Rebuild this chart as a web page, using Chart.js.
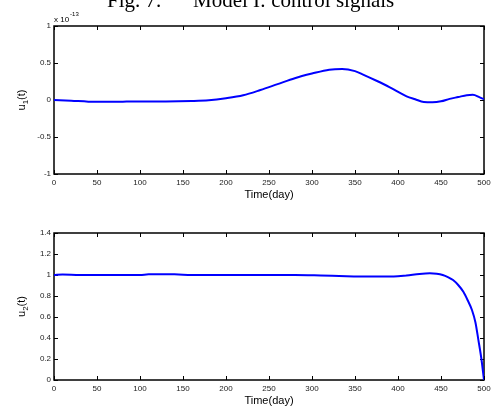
<!DOCTYPE html>
<html>
<head>
<meta charset="utf-8">
<script src="https://cdn.jsdelivr.net/npm/chart.js@4.4.0/dist/chart.umd.min.js"></script>
<style>
    body { margin: 0; background: #fff; width: 495px; height: 409px; overflow: hidden; position: relative; }
    canvas { position: absolute; left: 0; }
    #chartU1 { top: 0; }
    #chartU2 { top: 205px; }
</style>
</head>
<body>
<canvas id="chartU1" width="495" height="205"></canvas>
<canvas id="chartU2" width="495" height="204"></canvas>
<script>
// Données (u1 en unités de 1e-13)
const joursU1 = [0, 20, 40, 60, 80, 100, 130, 160, 180, 200, 220, 240, 260, 280, 300, 320, 335, 350, 360, 375, 390, 410, 420, 430, 440, 450, 460, 470, 480, 487, 495, 500];
const valeursU1 = [0.0, -0.01, -0.022, -0.025, -0.022, -0.02, -0.02, -0.015, -0.005, 0.023, 0.064, 0.135, 0.215, 0.295, 0.357, 0.41, 0.42, 0.39, 0.34, 0.26, 0.175, 0.05, 0.01, -0.027, -0.03, -0.018, 0.015, 0.04, 0.065, 0.07, 0.035, 0.01];

const joursU2 = [0, 10, 30, 60, 100, 110, 140, 160, 200, 250, 280, 310, 340, 370, 395, 410, 425, 437, 445, 452, 458, 464, 470, 476, 481, 486, 490, 493.5, 497, 500];
const valeursU2 = [1.0, 1.005, 1.0, 1.0, 1.0, 1.006, 1.006, 1.0, 1.0, 1.0, 1.0, 0.995, 0.988, 0.985, 0.985, 0.995, 1.01, 1.016, 1.012, 1.0, 0.98, 0.952, 0.905, 0.84, 0.76, 0.667, 0.55, 0.38, 0.2, 0.0];

const titreAxeX = 'Time(day)';
const policeSans = '"Liberation Sans", Arial, sans-serif';

// Format à la MATLAB : 1, 0.5, 0, -0.5 ...
const formatTick = v => String(Math.round(v * 10) / 10);

// Plugin : cadre, graduations internes, étiquettes Y avec indice, titre
const decorPlugin = {
    id: 'decor',
    beforeDatasetsDraw(chart, args, opts) {
        const { ctx, chartArea: a, scales } = chart;
        ctx.save();
        ctx.strokeStyle = '#000';
        ctx.lineWidth = 1.5;
        ctx.strokeRect(a.left, a.top, a.right - a.left, a.bottom - a.top);

        // graduations vers l'intérieur
        ctx.lineWidth = 1;
        ctx.beginPath();
        scales.x.ticks.forEach(t => {
            const px = Math.round(scales.x.getPixelForValue(t.value)) + 0.5;
            ctx.moveTo(px, a.bottom); ctx.lineTo(px, a.bottom - 4);
            ctx.moveTo(px, a.top); ctx.lineTo(px, a.top + 4);
        });
        scales.y.ticks.forEach(t => {
            const py = Math.round(scales.y.getPixelForValue(t.value)) + 0.5;
            ctx.moveTo(a.left, py); ctx.lineTo(a.left + 4, py);
            ctx.moveTo(a.right, py); ctx.lineTo(a.right - 4, py);
        });
        ctx.stroke();
        ctx.restore();
    },
    afterDraw(chart, args, opts) {
        const { ctx, chartArea: a } = chart;
        ctx.save();
        ctx.fillStyle = '#000';

        // étiquette Y : u_n(t)
        ctx.translate(opts.labelX, (a.top + a.bottom) / 2);
        ctx.rotate(-Math.PI / 2);
        ctx.textBaseline = 'alphabetic';
        ctx.font = '11px ' + policeSans;
        const wU = ctx.measureText('u').width;
        const wP = ctx.measureText('(t)').width;
        ctx.font = '8px ' + policeSans;
        const wS = ctx.measureText(opts.indice).width;
        let x = -(wU + wS + wP) / 2;
        ctx.font = '11px ' + policeSans;
        ctx.fillText('u', x, 0);
        ctx.font = '8px ' + policeSans;
        ctx.fillText(opts.indice, x + wU, 3);
        ctx.font = '11px ' + policeSans;
        ctx.fillText('(t)', x + wU + wS, 0);
        ctx.setTransform(1, 0, 0, 1, 0, 0);

        // multiplicateur x 10^-13
        if (opts.exposant) {
            ctx.font = '8px ' + policeSans;
            ctx.fillText('x 10', a.left, 22);
            const w = ctx.measureText('x 10').width;
            ctx.font = '6px ' + policeSans;
            ctx.fillText(opts.exposant, a.left + w + 1, 16);
        }

        // titre de la figure (coupé en haut)
        if (opts.titre) {
            ctx.font = '21px "Liberation Serif", "Times New Roman", serif';
            ctx.fillText('Fig. 7.', 107, 7);
            ctx.fillText('Model I: control signals', 193, 7);
        }
        ctx.restore();
    }
};

function creerGraphique(id, jours, valeurs, yMin, yMax, yPas, cfg) {
    const canvas = document.getElementById(id);
    const ctx = canvas.getContext('2d');
    const points = jours.map((j, i) => ({ x: j, y: valeurs[i] }));

    return new Chart(ctx, {
        type: 'line',
        data: {
            datasets: [{
                data: points,
                borderColor: '#0000ff',
                borderWidth: 2,
                pointRadius: 0,
                fill: false,
                cubicInterpolationMode: 'monotone'
            }]
        },
        plugins: [decorPlugin],
        options: {
            responsive: false,
            animation: false,
            layout: {
                padding: { top: cfg.haut, right: 11, left: 0, bottom: 0 }
            },
            plugins: {
                legend: { display: false },
                tooltip: { enabled: false },
                decor: cfg.decor
            },
            scales: {
                x: {
                    type: 'linear',
                    min: 0,
                    max: 500,
                    grid: { display: false, drawTicks: false },
                    border: { display: false },
                    ticks: {
                        stepSize: 50,
                        padding: 4,
                        color: '#222',
                        font: { size: 8, family: policeSans }
                    },
                    title: {
                        display: true,
                        text: titreAxeX,
                        color: '#000',
                        font: { size: 11, family: policeSans },
                        padding: { top: 0, bottom: cfg.titreBas }
                    },
                    afterFit: s => {
                        s.height = cfg.hauteurX;
                        s.paddingLeft = 0;
                        s.paddingRight = 0;
                    }
                },
                y: {
                    min: yMin,
                    max: yMax,
                    grid: { display: false, drawTicks: false },
                    border: { display: false },
                    ticks: {
                        stepSize: yPas,
                        padding: 3,
                        color: '#222',
                        font: { size: 8, family: policeSans },
                        callback: formatTick
                    },
                    afterFit: s => {
                        s.width = 54;
                        s.paddingTop = 0;
                        s.paddingBottom = 0;
                    }
                }
            }
        }
    });
}

creerGraphique('chartU1', joursU1, valeursU1, -1, 1, 0.5, {
    haut: 26, hauteurX: 31, titreBas: 3,
    decor: { labelX: 25, indice: '1', exposant: '-13', titre: true }
});

creerGraphique('chartU2', joursU2, valeursU2, 0, 1.4, 0.2, {
    haut: 28, hauteurX: 29, titreBas: 1,
    decor: { labelX: 25, indice: '2', exposant: null, titre: false }
});
</script>
</body>
</html>
